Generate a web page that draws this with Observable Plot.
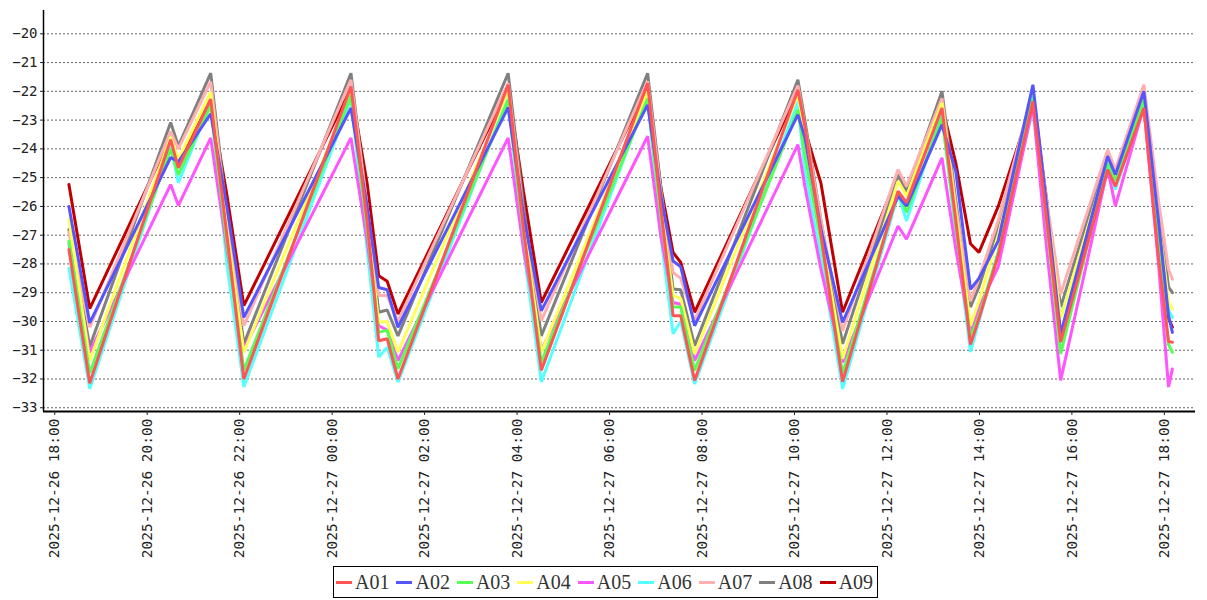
<!DOCTYPE html>
<html><head><meta charset="utf-8">
<script src="https://cdn.jsdelivr.net/npm/d3@7"></script>
<script src="https://cdn.jsdelivr.net/npm/@observablehq/plot@0.6"></script>
<style>
body{margin:0;background:#fff;width:1207px;height:600px;overflow:hidden;position:relative}
#chart{position:absolute;left:0;top:0}
#legend{position:absolute;left:333px;top:566px;height:30px;border:1px solid #000;display:flex;align-items:center;padding:0 4px 0 2px;font-family:"Liberation Serif",serif;font-size:20px;color:#333;white-space:nowrap;background:#fff}
.item{display:flex;align-items:center;margin-right:7px}
.item:last-child{margin-right:0}
.sw{width:16px;height:3px;margin-right:3px}
</style></head><body>
<div id="chart"></div><div id="legend"></div>
<script>
const times = ["2025-12-26 18:21","2025-12-26 18:48","2025-12-26 20:33","2025-12-26 20:43","2025-12-26 21:25","2025-12-26 21:46","2025-12-26 22:08",
"2025-12-27 00:27","2025-12-27 00:48","2025-12-27 01:03","2025-12-27 01:14","2025-12-27 01:28","2025-12-27 03:51","2025-12-27 04:11","2025-12-27 04:34",
"2025-12-27 06:52","2025-12-27 07:09","2025-12-27 07:25","2025-12-27 07:35","2025-12-27 07:53","2025-12-27 10:07","2025-12-27 10:16","2025-12-27 10:37",
"2025-12-27 11:05","2025-12-27 12:17","2025-12-27 12:28","2025-12-27 13:14","2025-12-27 13:32","2025-12-27 13:51","2025-12-27 14:02","2025-12-27 14:27",
"2025-12-27 15:12","2025-12-27 15:30","2025-12-27 15:48","2025-12-27 16:49","2025-12-27 16:59","2025-12-27 17:36","2025-12-27 17:55","2025-12-27 18:08","2025-12-27 18:13"];

const A01 = [-27.5,-32.15,-23.68,-24.66,-22.27,-27.0,-32.0,-21.83,-26.5,-30.67,-30.6,-32.0,-21.77,-26.8,-31.7,-21.72,-26.0,-29.8,-29.8,-32.05,-21.95,-23.2,-27.0,-32.1,-25.47,-25.87,-22.58,-26.5,-30.8,-29.9,-27.7,-22.35,-26.5,-30.72,-24.72,-25.3,-22.58,-27.8,-30.7,-30.72];
const A02 = [-26.0,-30.05,-24.3,-24.45,-22.78,-26.0,-29.86,-22.58,-26.0,-28.82,-28.9,-30.2,-22.56,-26.3,-29.63,-22.47,-25.6,-27.9,-28.1,-30.15,-22.81,-23.6,-26.8,-30.03,-25.64,-25.99,-23.16,-24.8,-28.88,-28.5,-27.2,-21.77,-26.0,-30.43,-24.26,-24.9,-22.0,-26.5,-29.8,-30.38];
const A03 = [-27.2,-31.8,-24.0,-24.9,-22.5,-27.3,-31.7,-22.15,-26.8,-30.38,-30.3,-31.65,-22.3,-27.0,-31.42,-22.25,-26.3,-29.5,-29.5,-31.7,-22.64,-24.2,-27.2,-31.82,-25.5,-26.2,-22.9,-26.7,-30.55,-29.8,-27.6,-22.06,-26.6,-31.13,-24.49,-25.1,-22.3,-27.3,-30.8,-31.07];
const A04 = [-26.45,-31.36,-23.6,-24.37,-22.03,-26.8,-31.07,-22.06,-26.5,-30.03,-30.0,-31.07,-22.0,-26.6,-31.07,-22.0,-26.0,-29.1,-29.2,-31.13,-22.12,-23.4,-26.9,-31.3,-25.12,-25.64,-22.4,-26.2,-30.15,-29.3,-27.0,-22.2,-26.0,-29.9,-24.4,-25.0,-22.3,-26.5,-29.3,-29.57];
const A05 = [-27.3,-31.07,-25.24,-25.97,-23.62,-27.5,-30.95,-23.62,-27.2,-30.15,-30.3,-31.36,-23.62,-27.5,-31.0,-23.56,-27.0,-29.34,-29.4,-31.36,-23.85,-25.3,-28.2,-31.42,-26.68,-27.14,-24.31,-27.5,-30.4,-29.5,-28.1,-22.5,-27.5,-32.05,-24.7,-25.99,-22.52,-28.0,-32.28,-31.65];
const A06 = [-28.15,-32.34,-23.89,-25.18,-22.4,-28.0,-32.28,-22.24,-27.5,-31.24,-30.9,-32.1,-22.18,-27.5,-32.1,-22.12,-27.0,-30.43,-30.0,-32.17,-22.35,-24.8,-27.8,-32.34,-25.58,-26.5,-22.75,-27.0,-31.06,-30.0,-27.6,-22.64,-26.5,-29.86,-24.6,-25.41,-22.4,-27.0,-29.6,-29.86];
const A07 = [-26.9,-30.2,-23.4,-24.0,-21.66,-26.5,-30.15,-21.6,-26.0,-29.1,-29.1,-30.0,-21.72,-26.3,-29.97,-21.65,-25.5,-28.3,-28.5,-29.97,-21.8,-23.2,-26.5,-30.32,-24.72,-25.3,-22.24,-26.0,-29.3,-28.5,-26.5,-22.0,-25.8,-29.05,-24.03,-24.72,-21.77,-25.8,-28.2,-28.53];
const A08 = [-26.8,-30.87,-23.08,-23.9,-21.37,-26.3,-30.78,-21.37,-26.0,-29.68,-29.6,-30.5,-21.37,-26.0,-30.5,-21.37,-25.3,-28.87,-28.9,-30.84,-21.6,-23.0,-26.5,-30.78,-24.9,-25.5,-22.0,-25.8,-29.5,-28.8,-26.7,-22.1,-25.9,-29.5,-24.2,-24.9,-22.0,-26.0,-28.8,-29.0];
const A09 = [-25.24,-29.55,-23.6,-24.5,-22.3,-25.6,-29.45,-21.9,-25.2,-28.41,-28.6,-29.74,-21.9,-25.5,-29.34,-21.85,-25.3,-27.6,-27.95,-29.68,-22.0,-23.33,-25.2,-29.68,-24.9,-25.5,-22.5,-24.5,-27.3,-27.6,-26.0,-22.3,-25.8,-30.5,-24.4,-25.0,-22.3,-27.5,-29.9,-30.2];

const seriesNames = ["A01","A02","A03","A04","A05","A06","A07","A08","A09"];
const seriesColors = ["#ff5555","#5555ff","#55ff55","#ffff55","#ff55ff","#55ffff","#ffafaf","#808080","#c00000"];
const seriesValues = [A01,A02,A03,A04,A05,A06,A07,A08,A09];

const xTickTimes = ["2025-12-26 18:00","2025-12-26 20:00","2025-12-26 22:00","2025-12-27 00:00","2025-12-27 02:00","2025-12-27 04:00","2025-12-27 06:00","2025-12-27 08:00","2025-12-27 10:00","2025-12-27 12:00","2025-12-27 14:00","2025-12-27 16:00","2025-12-27 18:00"];
const yTicks = [-33,-32,-31,-30,-29,-28,-27,-26,-25,-24,-23,-22,-21,-20];
const xDomainTimes = ["2025-12-26 17:48","2025-12-27 18:43"];
const yDomain = [-33.13, -19.19];

const parse = d3.timeParse("%Y-%m-%d %H:%M");
const fmt = d3.timeFormat("%Y-%m-%d %H:%M");
const rows = [];
for (let s = seriesNames.length - 1; s >= 0; s--) {
  times.forEach((t, i) => rows.push({time: parse(t), value: seriesValues[s][i], series: seriesNames[s]}));
}
const xTicks = xTickTimes.map(parse);
const xDomain = xDomainTimes.map(parse);

const chart = Plot.plot({
  width: 1207, height: 565,
  marginLeft: 43, marginRight: 12, marginTop: 10, marginBottom: 154,
  style: {fontFamily: "'DejaVu Sans Mono', monospace", fontSize: "14.5px", color: "#222", background: "#fff"},
  x: {type: "time", domain: xDomain},
  y: {domain: yDomain},
  color: {domain: seriesNames, range: seriesColors},
  marks: [
    Plot.gridY(yTicks, {stroke: "#666", strokeOpacity: 1, strokeDasharray: "2,2", strokeWidth: 1}),
    Plot.lineY(rows, {x: "time", y: "value", z: "series", stroke: "series", strokeWidth: 3, strokeLinejoin: "miter"}),
    Plot.ruleX([xDomain[0]], {stroke: "#000", strokeWidth: 1.5}),
    Plot.ruleY([yDomain[0]], {stroke: "#000", strokeWidth: 2}),
    Plot.axisY({ticks: yTicks, tickFormat: d => "\u2212" + Math.abs(d), tickSize: 3, tickPadding: 3, label: null, fontSize: 14}),
    Plot.axisX({ticks: xTicks, tickFormat: fmt, tickRotate: -90, tickSize: 4, tickPadding: 3, label: null, dx: 2})
  ]
});
document.getElementById("chart").appendChild(chart);

const legend = document.getElementById("legend");
seriesNames.forEach((n, i) => {
  const it = document.createElement("div"); it.className = "item";
  const sw = document.createElement("span"); sw.className = "sw"; sw.style.background = seriesColors[i];
  const tx = document.createElement("span"); tx.textContent = n;
  it.appendChild(sw); it.appendChild(tx); legend.appendChild(it);
});
</script></body></html>
